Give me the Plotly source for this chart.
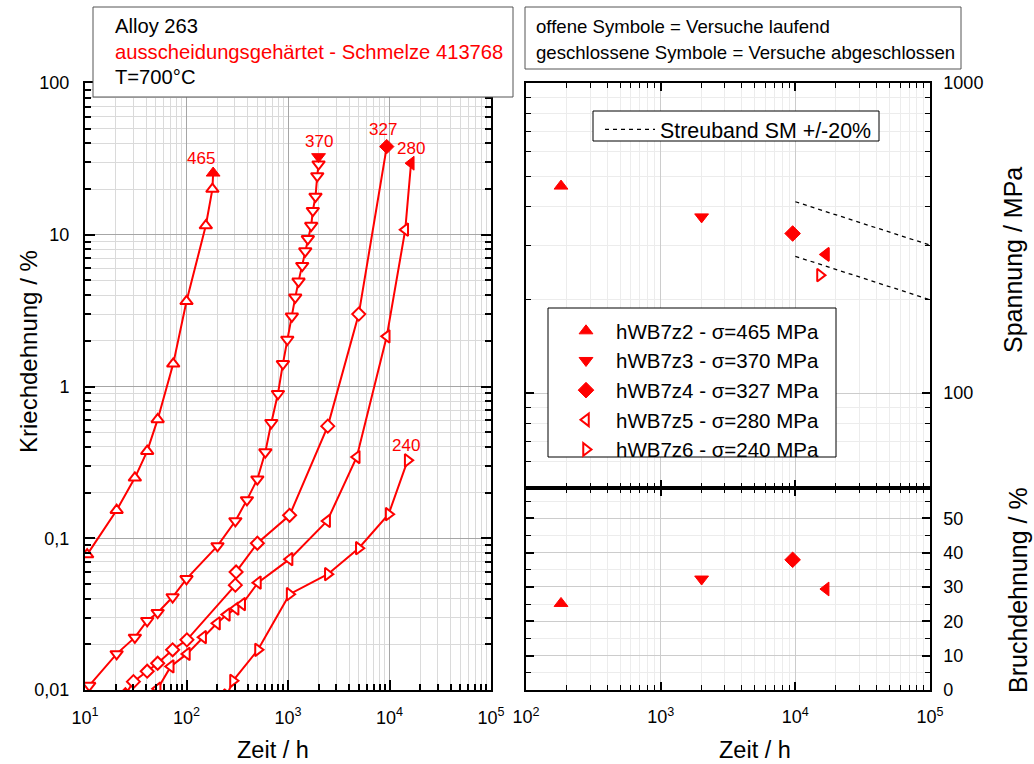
import numpy as np
import plotly.graph_objects as go

W, H = 1034, 764
RED = "#ff0000"
FONT = "Liberation Sans, Arial, sans-serif"

# ---------------- data: creep curves (left chart) ----------------
# time [h], creep strain [%]; last point of ruptured tests = rupture (filled symbol)
t465 = [10.5, 20.5, 31, 41, 52, 74, 100, 155, 180, 183]
e465 = [0.078, 0.153, 0.25, 0.375, 0.607, 1.41, 3.64, 11.5, 20.0, 25.5]

t370 = [11, 20.5, 31, 41, 52, 73, 100, 202, 303, 394, 499, 598, 685, 796, 891, 984,
        1092, 1179, 1270, 1381, 1479, 1569, 1693, 1757, 1866, 1942, 2000, 2000]
e370 = [0.0107, 0.0173, 0.0222, 0.0286, 0.0323, 0.041, 0.054, 0.089, 0.13, 0.179, 0.245,
        0.37, 0.577, 0.896, 1.41, 2.04, 2.9, 3.87, 4.93, 6.25, 7.8, 9.4, 11.5, 14.4,
        17.9, 24.4, 29.2, 32.7]

t327 = [25, 30, 41, 52, 73, 101, 303, 308, 499, 1037, 2466, 4980, 9400]
e327 = [0.0093, 0.01135, 0.0133, 0.015, 0.0184, 0.0214, 0.0491, 0.06, 0.0927, 0.1416,
        0.548, 3.0, 38.1]

t280 = [52, 70, 101, 146, 200, 250, 305, 354, 506, 1037, 2432, 4760, 9400, 14300, 16300]
e280 = [0.0102, 0.0143, 0.0173, 0.0223, 0.0275, 0.0314, 0.0344, 0.0368, 0.051, 0.0728,
        0.130, 0.343, 2.14, 10.8, 29.6]

t240 = [250, 287, 506, 1037, 2466, 4980, 9800, 15100]
e240 = [0.0092, 0.0115, 0.0184, 0.0428, 0.058, 0.086, 0.144, 0.326]

# ---------------- data: rupture time / stress / rupture elongation (right chart) ----------------
specimens = ["hWB7z2", "hWB7z3", "hWB7z4", "hWB7z5", "hWB7z6"]
stress = [465, 370, 327, 280, 240]                 # MPa
rupture_time = [182, 2014, 9550, 16870, 15240]     # h (240 MPa: still running)
rupture_elong = [25.2, 32.3, 37.9, 29.4, None]     # %
finished = [True, True, True, True, False]

# scatter band SM +/-20 %
band_t = [1e4, 1e5]
band_mean = [345, 250]

# tick labels
x_ticks_left = [10, 100, 1000, 10000, 100000]
x_ticktext_left = ["10<sup>1</sup>", "10<sup>2</sup>", "10<sup>3</sup>", "10<sup>4</sup>", "10<sup>5</sup>"]
y_ticks_left = [0.01, 0.1, 1, 10, 100]
y_ticktext_left = ["0,01", "0,1", "1", "10", "100"]
x_ticks_right = [100, 1000, 10000, 100000]
x_ticktext_right = ["10<sup>2</sup>", "10<sup>3</sup>", "10<sup>4</sup>", "10<sup>5</sup>"]
y_ticks_stress = [100, 1000]
y_ticktext_stress = ["100", "1000"]
y_ticks_elong = [0, 10, 20, 30, 40, 50]


def px(x):
    return x / W


def py(y):
    return 1 - y / H


fig = go.Figure()

open_sym = ["triangle-up", "triangle-down", "diamond", "triangle-left", "triangle-right"]
msize = [11, 11, 10, 11, 11]
series = [(t465, e465), (t370, e370), (t327, e327), (t280, e280), (t240, e240)]

for (t, e), sym, ms, fin in zip(series, open_sym, msize, finished):
    fig.add_trace(go.Scatter(x=t, y=e, mode="lines", line=dict(color=RED, width=2),
                             xaxis="x", yaxis="y", showlegend=False, hoverinfo="skip"))
    to, eo = (t[:-1], e[:-1]) if fin else (t, e)
    fig.add_trace(go.Scatter(x=to, y=eo, mode="markers",
                             marker=dict(symbol=sym, size=ms, color="white",
                                         line=dict(color=RED, width=2)),
                             xaxis="x", yaxis="y", showlegend=False))
    if fin:
        fig.add_trace(go.Scatter(x=[t[-1]], y=[e[-1]], mode="markers",
                                 marker=dict(symbol=sym, size=ms + 1, color=RED,
                                             line=dict(color=RED, width=1)),
                                 xaxis="x", yaxis="y", showlegend=False))

# labels at curve ends
label_shift = [(-12, 15), (0, 15), (-4, 17), (0, 15), (-2, 15)]
for (t, e), s, (dx, dy) in zip(series, stress, label_shift):
    fig.add_annotation(x=np.log10(t[-1]), y=np.log10(e[-1]), xref="x", yref="y",
                       text=str(s), showarrow=False, xshift=dx, yshift=dy,
                       font=dict(family=FONT, size=17, color=RED))

# ---------------- right chart ----------------
band_up = [m * 1.2 for m in band_mean]
band_lo = [m * 0.8 for m in band_mean]
fig.add_trace(go.Scatter(x=band_t + [None] + band_t, y=band_up + [None] + band_lo,
                         mode="lines", line=dict(color="black", width=1.3, dash="4px,4px"),
                         name="Streuband SM +/-20%", xaxis="x2", yaxis="y2",
                         legend="legend2"))

for name, s, tr, el, sym, fin in zip(specimens, stress, rupture_time, rupture_elong,
                                     open_sym, finished):
    label = f"{name} - \u03c3={s} MPa"
    if sym == "triangle-left":
        # legend shows open symbol, point is filled
        fig.add_trace(go.Scatter(x=[tr], y=[s], mode="markers", name=label,
                                 marker=dict(symbol=sym, size=11, color="white",
                                             line=dict(color=RED, width=2)),
                                 xaxis="x2", yaxis="y2", legend="legend"))
        fig.add_trace(go.Scatter(x=[tr], y=[s], mode="markers", showlegend=False,
                                 marker=dict(symbol=sym, size=12, color=RED,
                                             line=dict(color=RED, width=1)),
                                 xaxis="x2", yaxis="y2"))
    elif fin:
        fig.add_trace(go.Scatter(x=[tr], y=[s], mode="markers", name=label,
                                 marker=dict(symbol=sym, size=12, color=RED,
                                             line=dict(color=RED, width=1)),
                                 xaxis="x2", yaxis="y2", legend="legend"))
    else:
        fig.add_trace(go.Scatter(x=[tr], y=[s], mode="markers", name=label,
                                 marker=dict(symbol=sym, size=11, color="white",
                                             line=dict(color=RED, width=2)),
                                 xaxis="x2", yaxis="y2", legend="legend"))
    if el is not None:
        fig.add_trace(go.Scatter(x=[tr], y=[el], mode="markers", showlegend=False,
                                 marker=dict(symbol=sym, size=12, color=RED,
                                             line=dict(color=RED, width=1)),
                                 xaxis="x3", yaxis="y3"))

# ---------------- axes ----------------
minor_log_left = [m * 10 ** k for k in range(1, 5) for m in range(2, 10)]
minor_log_y = [m * 10 ** k for k in range(-2, 2) for m in range(2, 10)]
minor_log_right = [m * 10 ** k for k in range(2, 5) for m in range(2, 10)]
minor_log_stress = [m * 10 ** k for k in range(1, 3) for m in range(2, 10)]

tickfont = dict(family=FONT, size=18, color="black")

L_dom_x = [px(85), px(491)]
L_dom_y = [py(690), py(83)]
R_dom_x = [px(526), px(930)]
RT_dom_y = [py(488), py(83)]
RB_dom_y = [py(690), py(488)]

common = dict(showline=True, linecolor="black", zeroline=False, ticks="inside",
              mirror="ticks", tickcolor="black", tickfont=tickfont, showgrid=True,
              automargin=False)

fig.update_layout(
    xaxis=dict(type="log", range=[1, 5], domain=L_dom_x, anchor="y",
               tickmode="array", tickvals=x_ticks_left, ticktext=x_ticktext_left,
               ticklen=10, tickwidth=2, linewidth=2, gridcolor="#a6a6a6", gridwidth=1,
               ticklabelstandoff=10,
               minor=dict(tickvals=minor_log_left, ticks="inside", ticklen=6, tickwidth=1.5,
                          tickcolor="black", showgrid=True, gridcolor="#dadada", gridwidth=1),
               **common),
    yaxis=dict(type="log", range=[-2, 2], domain=L_dom_y, anchor="x",
               tickmode="array", tickvals=y_ticks_left, ticktext=y_ticktext_left,
               ticklen=10, tickwidth=2, linewidth=2, gridcolor="#a6a6a6", gridwidth=1,
               ticklabelstandoff=10,
               minor=dict(tickvals=minor_log_y, ticks="inside", ticklen=6, tickwidth=1.5,
                          tickcolor="black", showgrid=True, gridcolor="#dadada", gridwidth=1),
               **common),
    xaxis2=dict(type="log", range=[2, 5], domain=R_dom_x, anchor="y2",
                tickmode="array", tickvals=x_ticks_right, showticklabels=False,
                ticklen=8, tickwidth=1.5, linewidth=1.5, gridcolor="#cccccc",
                minor=dict(tickvals=minor_log_right, ticks="inside", ticklen=5, tickwidth=1.2,
                           tickcolor="black", showgrid=True, gridcolor="#ececec"),
                **common),
    yaxis2=dict(type="log", range=[np.log10(49.4), 3], domain=RT_dom_y, anchor="x2",
                side="right", tickmode="array", tickvals=y_ticks_stress,
                ticktext=y_ticktext_stress, ticklen=8, tickwidth=1.5, linewidth=1.5,
                gridcolor="#cccccc", ticklabelstandoff=8,
                minor=dict(tickvals=minor_log_stress, ticks="inside", ticklen=5, tickwidth=1.2,
                           tickcolor="black", showgrid=True, gridcolor="#ececec"),
                **common),
    xaxis3=dict(type="log", range=[2, 5], domain=R_dom_x, anchor="y3", matches="x2",
                tickmode="array", tickvals=x_ticks_right, ticktext=x_ticktext_right,
                ticklen=8, tickwidth=1.5, linewidth=1.5, gridcolor="#cccccc",
                ticklabelstandoff=10,
                minor=dict(tickvals=minor_log_right, ticks="inside", ticklen=5, tickwidth=1.2,
                           tickcolor="black", showgrid=True, gridcolor="#ececec"),
                **common),
    yaxis3=dict(range=[0, 58.8], domain=RB_dom_y, anchor="x3", side="right",
                tickmode="array", tickvals=y_ticks_elong, ticklen=8, tickwidth=1.5,
                linewidth=1.5, gridcolor="#cccccc", ticklabelstandoff=8,
                minor=dict(dtick=5, ticks="inside", ticklen=5, tickwidth=1.2,
                           tickcolor="black", showgrid=True, gridcolor="#ececec"),
                **common),
)

fig.update_layout(
    width=W, height=H, margin=dict(l=0, r=0, t=0, b=0, pad=0, autoexpand=False),
    paper_bgcolor="white", plot_bgcolor="white",
    font=dict(family=FONT, color="black"),
    legend=dict(x=px(556), y=py(311), xanchor="left", yanchor="top",
                bgcolor="rgba(0,0,0,0)", borderwidth=0, itemwidth=50,
                font=dict(family=FONT, size=20.5, color="black"), tracegroupgap=0),
    legend2=dict(x=px(600), y=py(109), xanchor="left", yanchor="top",
                 bgcolor="rgba(0,0,0,0)", borderwidth=0, itemwidth=50,
                 font=dict(family=FONT, size=21.4, color="black")),
)

# boxes
shapes = [
    (93, 7, 513, 97, "#555555"),
    (525, 7, 961, 69, "#555555"),
    (548, 308, 836, 457, "black"),
    (593, 111, 879, 141, "black"),
]
for x0, y0, x1, y1, c in shapes:
    fig.add_shape(type="rect", xref="paper", yref="paper", x0=px(x0), x1=px(x1),
                  y0=py(y0), y1=py(y1), line=dict(color=c, width=1), fillcolor="white",
                  layer="above")

# text box contents
box1 = [("Alloy 263", "black", 26), ("ausscheidungsgehärtet - Schmelze 413768", RED, 52),
        ("T=700°C", "black", 77)]
for txt, col, yy in box1:
    fig.add_annotation(x=px(113), y=py(yy), xref="paper", yref="paper", text=txt,
                       showarrow=False, xanchor="left", yanchor="middle",
                       font=dict(family=FONT, size=20.2, color=col))
box2 = [("offene Symbole = Versuche laufend", 26),
        ("geschlossene Symbole = Versuche abgeschlossen", 52)]
for txt, yy in box2:
    fig.add_annotation(x=px(534), y=py(yy), xref="paper", yref="paper", text=txt,
                       showarrow=False, xanchor="left", yanchor="middle",
                       font=dict(family=FONT, size=18.6, color="black"))

# axis titles
titles = [("Kriechdehnung / %", 28, 352, -90, 24), ("Zeit / h", 273, 750, 0, 23.5),
          ("Zeit / h", 755, 750, 0, 23.5), ("Spannung / MPa", 1013, 260, -90, 25),
          ("Bruchdehnung / %", 1018, 590, -90, 25)]
for txt, xx, yy, ang, fs in titles:
    fig.add_annotation(x=px(xx), y=py(yy), xref="paper", yref="paper", text=txt,
                       showarrow=False, textangle=ang, xanchor="center", yanchor="middle",
                       font=dict(family=FONT, size=fs, color="black"))

fig.write_html("out.html")
